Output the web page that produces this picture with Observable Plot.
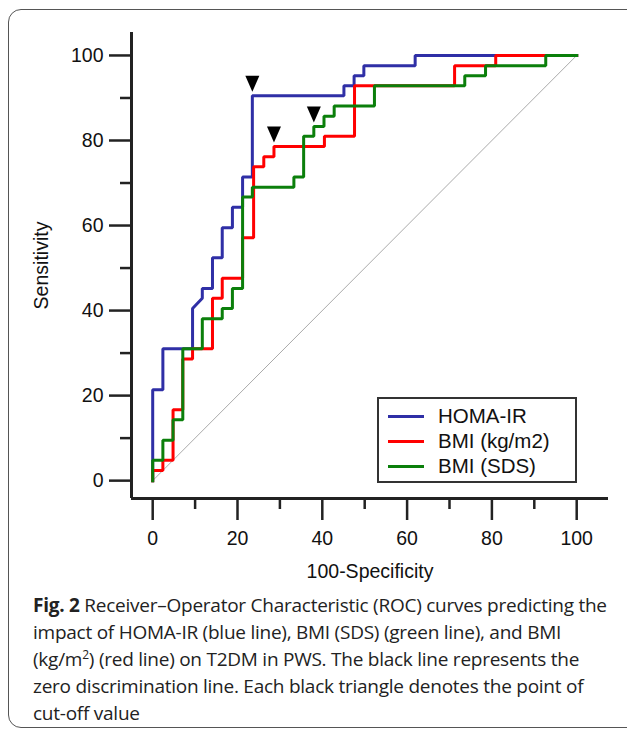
<!DOCTYPE html>
<html><head><meta charset="utf-8">
<script src="https://cdn.jsdelivr.net/npm/d3@7"></script>
<script src="https://cdn.jsdelivr.net/npm/@observablehq/plot@0.6"></script>
<style>
body{margin:0;background:#fff;width:627px;height:732px;overflow:hidden;position:relative;font-family:"Liberation Sans",Arial,sans-serif}
#frame{position:absolute;left:8px;top:9px;width:660px;height:719px;border:1.5px solid #555;border-radius:13px;box-sizing:border-box}
#chart{position:absolute;left:0;top:0}
#legend{position:absolute;left:377px;top:397px;width:200px;height:86px;border:2.5px solid #333;background:#fff;box-sizing:border-box}
.row{position:absolute;left:0;height:24px;width:100%}
.swatch{position:absolute;left:9px;top:11px;width:36px;height:3px}
.lab{position:absolute;left:59px;top:0;font-size:20.5px;line-height:24px;color:#111;white-space:nowrap}
#caption{position:absolute;left:33px;top:592px;font-family:"Open Sans",sans-serif;font-size:19px;letter-spacing:-0.25px;line-height:27px;color:#222;white-space:nowrap}
</style></head>
<body>
<div id="frame"></div>
<div id="chart"></div>
<div id="legend"></div>
<div id="caption"><b>Fig. 2</b> Receiver–Operator Characteristic (ROC) curves predicting the<br>impact of HOMA-IR (blue line), BMI (SDS) (green line), and BMI<br>(kg/m<sup style="font-size:12px;line-height:0">2</sup>) (red line) on T2DM in PWS. The black line represents the<br>zero discrimination line. Each black triangle denotes the point of<br>cut-off value</div>
<script>
const seriesNames = ["HOMA-IR", "BMI (kg/m2)", "BMI (SDS)"];
const seriesColors = ["#2f2fa6", "#ff0000", "#0b7f0b"];

// HOMA-IR ROC vertices (100-Specificity, Sensitivity)
const homaX = [0,0,2.4,2.4,9.4,9.4,11.7,11.7,14.1,14.1,16.4,16.4,18.8,18.8,21.2,21.2,23.5,23.5,45.1,45.1,47.5,47.5,49.8,49.8,61.9,61.9,100];
const homaY = [0,21.4,21.4,31,31,40.5,42.9,45.2,45.2,52.4,52.4,59.5,59.5,64.3,64.3,71.4,71.4,90.5,90.5,92.9,92.9,95.2,95.2,97.6,97.6,100,100];
// BMI (kg/m2)
const bmiX = [0,0,2.4,2.4,4.8,4.8,7.1,7.1,9.4,9.4,14.1,14.1,16.4,16.4,21.2,21.2,23.8,23.8,26.2,26.2,28.6,28.6,40.5,40.5,47.6,47.6,71.2,71.2,80.9,80.9,100];
const bmiY = [0,2.4,2.4,4.8,4.8,16.7,16.7,28.6,28.6,31,31,42.9,42.9,47.6,47.6,57.1,57.1,73.8,73.8,76.2,76.2,78.6,78.6,81,81,92.9,92.9,97.6,97.6,100,100];
// BMI (SDS)
const sdsX = [0,0,2.4,2.4,4.8,4.8,7.1,7.1,11.7,11.7,16.4,16.4,18.8,18.8,21.2,21.2,23.5,23.5,33.3,33.3,35.6,35.6,38,38,40.4,40.4,42.8,42.8,52.3,52.3,73.6,73.6,78.5,78.5,92.7,92.7,100];
const sdsY = [0,4.8,4.8,9.5,9.5,14.3,14.3,31,31,38.1,38.1,40.5,40.5,45.2,45.2,66.7,66.7,69,69,71.4,71.4,81,81,83.3,83.3,85.7,85.7,88.1,88.1,92.9,92.9,95.2,95.2,97.6,97.6,100,100];

// cut-off points (triangles)
const cutX = [23.5, 28.6, 38.0];
const cutY = [90.5, 78.6, 83.3];

// zero discrimination line
const diagonal = [0, 100];

const xTicks = [0, 20, 40, 60, 80, 100];
const xMinor = [10, 30, 50, 70, 90];
const yTicks = [0, 20, 40, 60, 80, 100];
const yMinor = [10, 30, 50, 70, 90];
const xDomain = [-5, 107.5];
const yDomain = [-4.2, 105.4];

const xs = [homaX, bmiX, sdsX], ys = [homaY, bmiY, sdsY];
const rows = [];
seriesNames.forEach((s, i) => xs[i].forEach((x, j) => rows.push({series: s, x, y: ys[i][j]})));
const cuts = cutX.map((x, i) => ({x, y: cutY[i]}));

const triangleDown = {
  draw(ctx) { ctx.moveTo(-7, -16); ctx.lineTo(7, -16); ctx.lineTo(0, 0); ctx.closePath(); }
};

const chart = Plot.plot({
  width: 627, height: 590,
  marginLeft: 131, marginRight: 19, marginTop: 32, marginBottom: 92,
  style: {fontFamily: '"Liberation Sans", Arial, sans-serif', fontSize: "19px", color: "#111", background: "transparent"},
  x: {domain: xDomain},
  y: {domain: yDomain},
  color: {domain: seriesNames, range: seriesColors},
  marks: [
    Plot.line(diagonal, {x: d => d, y: d => d, stroke: "#aaaaaa", strokeWidth: 1}),
    Plot.line(rows, {x: "x", y: "y", z: "series", stroke: "series", strokeWidth: 3, strokeLinejoin: "miter", strokeLinecap: "square"}),
    Plot.dot(cuts, {x: "x", y: "y", symbol: triangleDown, fill: "black", stroke: null, r: 5, dy: -4}),
    Plot.axisX({ticks: xTicks, tickSize: 22, tickPadding: 11, strokeWidth: 2.5, stroke: "#222", label: "100-Specificity", labelArrow: false, labelAnchor: "center", labelOffset: 79, fontSize: "19.5px"}),
    Plot.axisX({ticks: xMinor, tickSize: 11, tickFormat: () => "", strokeWidth: 2.5, stroke: "#222", label: null}),
    Plot.axisY({ticks: yTicks, tickSize: 22, tickPadding: 6, strokeWidth: 2.5, stroke: "#222", label: "Sensitivity", labelArrow: false, labelAnchor: "center", labelOffset: 97, fontSize: "19.5px"}),
    Plot.axisY({ticks: yMinor, tickSize: 11, tickFormat: () => "", strokeWidth: 2.5, stroke: "#222", label: null}),
    Plot.ruleY([yDomain[0]], {stroke: "#222", strokeWidth: 3}),
    Plot.ruleX([xDomain[0]], {stroke: "#222", strokeWidth: 3})
  ]
});
document.getElementById("chart").appendChild(chart);

const legend = document.getElementById("legend");
seriesNames.forEach((s, i) => {
  const row = document.createElement("div");
  row.className = "row";
  row.style.top = (5 + i * 25) + "px";
  row.innerHTML = `<div class="swatch" style="background:${seriesColors[i]}"></div><div class="lab">${s}</div>`;
  legend.appendChild(row);
});
</script>
</body></html>
